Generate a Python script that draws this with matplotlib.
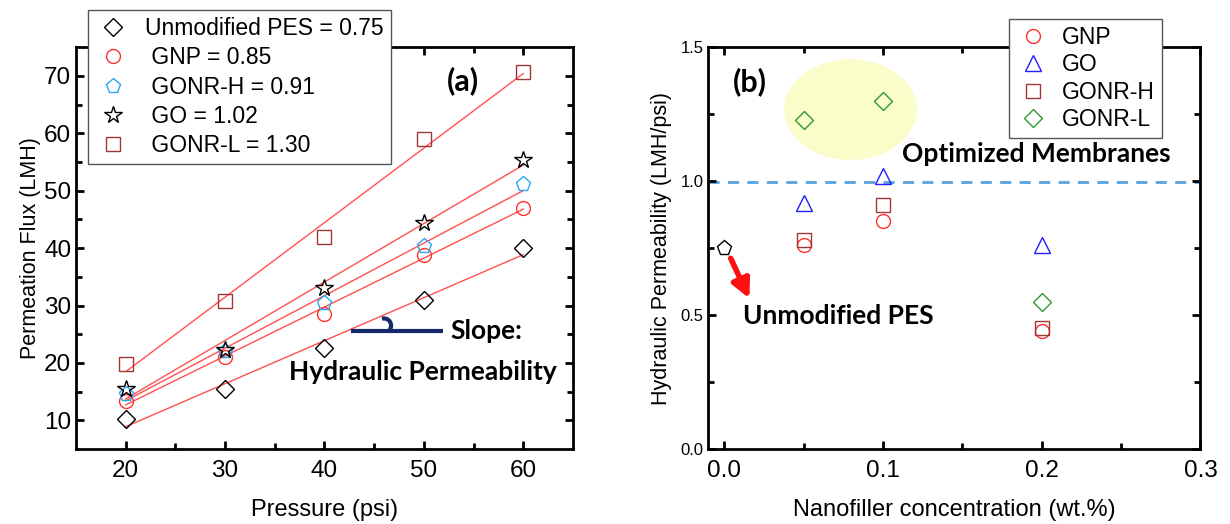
import numpy as np
import matplotlib.pyplot as plt
from matplotlib.patches import Ellipse, Arc

plt.rcParams['font.family'] = ['Liberation Sans', 'DejaVu Sans']

# Panel (a): permeation flux vs pressure
pressure = [20, 30, 40, 50, 60]
flux_pes = [10.3, 15.5, 22.6, 31.0, 40.0]
flux_gnp = [13.3, 21.0, 28.6, 38.8, 47.0]
flux_gonr_h = [14.6, 22.0, 30.5, 40.3, 51.2]
flux_go = [15.5, 22.3, 33.0, 44.3, 55.4]
flux_gonr_l = [19.8, 30.8, 42.0, 59.0, 70.6]
labels_a = ["Unmodified PES = 0.75", " GNP = 0.85", " GONR-H = 0.91",
            " GO = 1.02", " GONR-L = 1.30"]

# Panel (b): hydraulic permeability vs nanofiller concentration
conc = [0.05, 0.1, 0.2]
perm_pes_conc = [0.0]
perm_pes = [0.75]
perm_gnp = [0.76, 0.85, 0.44]
perm_go = [0.92, 1.02, 0.76]
perm_gonr_h = [0.78, 0.91, 0.45]
perm_gonr_l = [1.23, 1.30, 0.55]
target_perm = 0.995

c_red = "#ff3030"
c_cyan = "#2aa6f0"
c_brown = "#a03838"
c_blue = "#1f1fff"
c_green = "#2e9a2e"
c_navy = "#13296b"

fig = plt.figure(figsize=(12.3, 5.24), dpi=100)
ax1 = fig.add_axes([0.0618, 0.143, 0.404, 0.767])
ax2 = fig.add_axes([0.576, 0.143, 0.400, 0.767])

for ax in (ax1, ax2):
    for s in ax.spines.values():
        s.set_linewidth(2)
    ax.tick_params(which='both', direction='in', top=True, right=True, width=2)
    ax.tick_params(which='major', length=6)
    ax.tick_params(which='minor', length=4)

# ---- (a)
series = [(flux_pes, 'D', 'black', 9), (flux_gnp, 'o', c_red, 10),
          (flux_gonr_h, 'p', c_cyan, 11), (flux_go, '*', 'black', 13),
          (flux_gonr_l, 's', c_brown, 10)]
handles = []
for (y, m, c, ms), lab in zip(series, labels_a):
    h, = ax1.plot(pressure, y, ls='none', marker=m, ms=ms, mfc='none', mec=c,
                  mew=1.0, label=lab)
    handles.append(h)
    k, b = np.polyfit(pressure, y, 1)
    xx = np.array([pressure[0], pressure[-1]])
    ax1.plot(xx, k * xx + b, color="#ff5050", lw=1.0, zorder=1)

ax1.set_xlim(15, 65)
ax1.set_ylim(5, 75)
ax1.set_xticks([20, 30, 40, 50, 60])
ax1.set_xticks([25, 35, 45, 55], minor=True)
ax1.set_yticks(range(10, 71, 10))
ax1.set_yticks(range(15, 75, 10), minor=True)
ax1.tick_params(labelsize=17.5)
ax1.tick_params(axis='x', pad=8)
ax1.set_xlabel("Pressure (psi)", fontsize=17, labelpad=12)
ax1.set_ylabel("Permeation Flux (LMH)", fontsize=15.5, labelpad=2)

fig.legend(handles=handles, loc='upper left', bbox_to_anchor=(0.0715, 0.981),
           borderaxespad=0, fontsize=16.5, frameon=True, fancybox=False,
           edgecolor='#555555', framealpha=1, handletextpad=0.6, borderpad=0.3,
           labelspacing=0.28, handlelength=1.6)

bold = dict(family=['Lato', 'DejaVu Sans'], fontweight='bold')
ax1.text(53.9, 69.1, "(a)", fontsize=22, ha='center', va='center', **bold)
ax1.plot([42.7, 51.9], [25.6, 25.6], color=c_navy, lw=3, solid_capstyle='butt')
ax1.add_patch(Arc((46.0, 26.5), 1.4, 2.5, theta1=-60, theta2=100, color=c_navy, lw=3))
ax1.text(52.7, 25.6, "Slope:", fontsize=19, ha='left', va='center', **bold)
ax1.text(49.9, 18.5, "Hydraulic Permeability", fontsize=19, ha='center', va='center', **bold)

# ---- (b)
ax2.add_patch(Ellipse((0.0795, 1.267), 0.0836, 0.376, facecolor="#fafcca",
                      edgecolor='none', zorder=0))
ax2.axhline(target_perm, color="#5aa2dc", lw=2, ls=(0, (4, 3)), zorder=1)
ax2.plot(perm_pes_conc, perm_pes, ls='none', marker='p', ms=11, mfc='none',
         mec='black', mew=1.0)
hb = []
for y, m, c, ms, lab in [(perm_gnp, 'o', c_red, 10, "GNP"),
                         (perm_go, '^', c_blue, 11, "GO"),
                         (perm_gonr_h, 's', c_brown, 9.5, "GONR-H"),
                         (perm_gonr_l, 'D', c_green, 9, "GONR-L")]:
    h, = ax2.plot(conc, y, ls='none', marker=m, ms=ms, mfc='none', mec=c,
                  mew=1.0, label=lab)
    hb.append(h)

ax2.set_xlim(-0.01, 0.3)
ax2.set_ylim(0, 1.5)
ax2.set_xticks([0.0, 0.1, 0.2, 0.3])
ax2.set_xticks([0.05, 0.15, 0.25], minor=True)
ax2.set_yticks([0.0, 0.5, 1.0, 1.5])
ax2.set_yticks([0.25, 0.75, 1.25], minor=True)
ax2.tick_params(axis='x', labelsize=17.5, pad=8)
ax2.tick_params(axis='y', labelsize=12)
ax2.set_xlabel("Nanofiller concentration (wt.%)", fontsize=17, labelpad=12)
ax2.set_ylabel("Hydraulic Permeability (LMH/psi)", fontsize=15.5, labelpad=6)

fig.legend(handles=hb, loc='upper left', bbox_to_anchor=(0.8205, 0.964),
           borderaxespad=0, fontsize=16.5, frameon=True, fancybox=False,
           edgecolor='#555555', framealpha=1, handletextpad=0.5, borderpad=0.3,
           labelspacing=0.2, handlelength=1.5)

ax2.text(0.016, 1.373, "(b)", fontsize=22, ha='center', va='center', **bold)
ax2.text(0.112, 1.102, "Optimized Membranes", fontsize=19, ha='left', va='center', **bold)
ax2.text(0.0116, 0.495, "Unmodified PES", fontsize=19, ha='left', va='center', **bold)
ax2.annotate("", xy=(0.0158, 0.562), xytext=(0.0040, 0.712),
             arrowprops=dict(arrowstyle='-|>,head_width=0.55,head_length=1.1',
                             color='#ff1010', lw=4, shrinkA=0, shrinkB=0))

fig.savefig("out.png", dpi=100)
